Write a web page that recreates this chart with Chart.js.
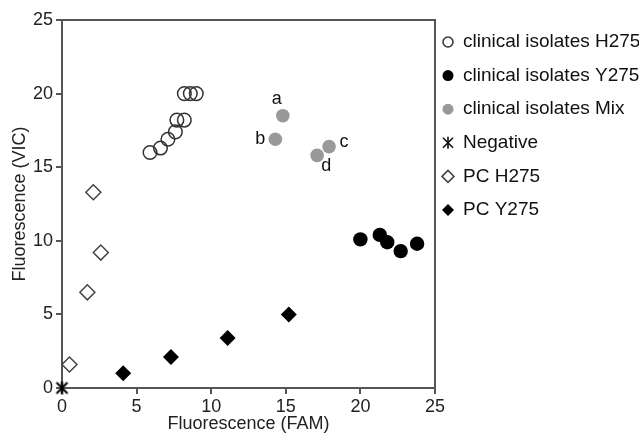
<!DOCTYPE html>
<html>
<head>
<meta charset="utf-8">
<script src="https://cdn.jsdelivr.net/npm/chart.js@4"></script>
<style>
  html, body { margin: 0; padding: 0; background: #fff; }
  #wrap { width: 639px; height: 434px; }
</style>
</head>
<body>
<div id="wrap"><canvas id="fluoChart" width="639" height="434"></canvas></div>
<script>
// series names (legend order)
const seriesNames = ['clinical isolates H275', 'clinical isolates Y275', 'clinical isolates Mix', 'Negative', 'PC H275', 'PC Y275'];

// values
const h275X = [5.9, 6.6, 7.1, 7.6, 7.7, 8.2, 8.2, 8.6, 9.0];
const h275Y = [16.0, 16.3, 16.9, 17.4, 18.2, 18.2, 20.0, 20.0, 20.0];
const y275X = [20.0, 21.3, 21.8, 22.7, 23.8];
const y275Y = [10.1, 10.4, 9.9, 9.3, 9.8];
const mixX = [14.8, 14.3, 17.9, 17.1];
const mixY = [18.5, 16.9, 16.4, 15.8];
const mixLabels = ['a', 'b', 'c', 'd'];
const negX = [0];
const negY = [0];
const pcH275X = [0.5, 1.7, 2.6, 2.1];
const pcH275Y = [1.6, 6.5, 9.2, 13.3];
const pcY275X = [4.1, 7.3, 11.1, 15.2];
const pcY275Y = [1.0, 2.1, 3.4, 5.0];

const axisTicks = [0, 5, 10, 15, 20, 25];

const FONT = "'Liberation Sans', Arial, sans-serif";
const AXIS_COLOR = '#555';

function toPoints(xs, ys) {
    return xs.map((x, i) => ({ x: x, y: ys[i] }));
}

// asterisk marker for the negative control
function makeStar(size, lw) {
    const c = document.createElement('canvas');
    c.width = size; c.height = size;
    const g = c.getContext('2d');
    const m = 2, s = size - 2;
    g.strokeStyle = '#000';
    g.lineWidth = lw;
    g.beginPath();
    g.moveTo(m + 1, m + 1); g.lineTo(s - 1, s - 1);
    g.moveTo(s - 1, m + 1); g.lineTo(m + 1, s - 1);
    g.moveTo(size / 2, m); g.lineTo(size / 2, s);
    g.stroke();
    return c;
}
const starBig = makeStar(17, 2);

// small markers for the legend
function drawMarker(ctx, kind, x, y) {
    ctx.save();
    ctx.lineWidth = 1.5;
    ctx.beginPath();
    if (kind === 'openCircle') {
        ctx.arc(x, y, 5, 0, Math.PI * 2);
        ctx.strokeStyle = '#333';
        ctx.stroke();
    } else if (kind === 'blackCircle' || kind === 'grayCircle') {
        ctx.arc(x, y, 5.5, 0, Math.PI * 2);
        ctx.fillStyle = kind === 'blackCircle' ? '#000' : '#999';
        ctx.fill();
    } else if (kind === 'star') {
        ctx.strokeStyle = '#111';
        ctx.lineWidth = 1.6;
        ctx.moveTo(x - 5, y - 5); ctx.lineTo(x + 5, y + 5);
        ctx.moveTo(x + 5, y - 5); ctx.lineTo(x - 5, y + 5);
        ctx.moveTo(x, y - 6); ctx.lineTo(x, y + 6);
        ctx.stroke();
    } else {
        ctx.moveTo(x - 6, y); ctx.lineTo(x, y - 6); ctx.lineTo(x + 6, y); ctx.lineTo(x, y + 6);
        ctx.closePath();
        if (kind === 'openDiamond') {
            ctx.strokeStyle = '#444';
            ctx.stroke();
        } else {
            ctx.fillStyle = '#000';
            ctx.fill();
        }
    }
    ctx.restore();
}
const legendKinds = ['openCircle', 'blackCircle', 'grayCircle', 'star', 'openDiamond', 'blackDiamond'];

const extrasPlugin = {
    id: 'extras',
    afterDraw(chart) {
        const ctx = chart.ctx;
        const a = chart.chartArea;
        // top and right frame lines
        ctx.save();
        ctx.strokeStyle = AXIS_COLOR;
        ctx.lineWidth = 2;
        ctx.beginPath();
        ctx.moveTo(a.left, a.top);
        ctx.lineTo(a.right, a.top);
        ctx.lineTo(a.right, a.bottom);
        ctx.stroke();
        ctx.restore();

        // letters next to the mix points
        const offsets = [[-6, -17], [-15, 0], [15, -5], [9, 11]];
        const meta = chart.getDatasetMeta(2);
        ctx.save();
        ctx.font = '18px ' + FONT;
        ctx.fillStyle = '#111';
        ctx.textAlign = 'center';
        ctx.textBaseline = 'middle';
        meta.data.forEach((pt, i) => {
            ctx.fillText(mixLabels[i], pt.x + offsets[i][0], pt.y + offsets[i][1]);
        });
        ctx.restore();

        // legend
        ctx.save();
        ctx.font = '19px ' + FONT;
        ctx.fillStyle = '#111';
        ctx.textBaseline = 'middle';
        seriesNames.forEach((name, i) => {
            const y = 42 + i * 33.6;
            drawMarker(ctx, legendKinds[i], 448, y);
            ctx.fillText(name, 463, y);
        });
        ctx.restore();
    }
};

const ctx = document.getElementById('fluoChart').getContext('2d');

const fluoChart = new Chart(ctx, {
    type: 'scatter',
    data: {
        datasets: [
            {
                label: seriesNames[0],
                data: toPoints(h275X, h275Y),
                pointStyle: 'circle',
                pointRadius: 6.8,
                backgroundColor: 'rgba(0,0,0,0)',
                borderColor: '#333',
                borderWidth: 1.5
            },
            {
                label: seriesNames[1],
                data: toPoints(y275X, y275Y),
                pointStyle: 'circle',
                pointRadius: 7.2,
                backgroundColor: '#000',
                borderColor: '#000',
                borderWidth: 0
            },
            {
                label: seriesNames[2],
                data: toPoints(mixX, mixY),
                pointStyle: 'circle',
                pointRadius: 6.8,
                backgroundColor: '#999',
                borderColor: '#999',
                borderWidth: 0
            },
            {
                label: seriesNames[3],
                data: toPoints(negX, negY),
                pointStyle: starBig,
                pointRadius: 8
            },
            {
                label: seriesNames[4],
                data: toPoints(pcH275X, pcH275Y),
                pointStyle: 'rectRot',
                pointRadius: 7.5,
                backgroundColor: 'rgba(0,0,0,0)',
                borderColor: '#444',
                borderWidth: 1.5
            },
            {
                label: seriesNames[5],
                data: toPoints(pcY275X, pcY275Y),
                pointStyle: 'rectRot',
                pointRadius: 8,
                backgroundColor: '#000',
                borderColor: '#000',
                borderWidth: 0
            }
        ]
    },
    options: {
        responsive: false,
        animation: false,
        clip: false,
        layout: {
            padding: { top: 20, right: 204, bottom: 0, left: 0 }
        },
        plugins: {
            legend: { display: false },
            tooltip: { enabled: false }
        },
        scales: {
            x: {
                type: 'linear',
                min: 0,
                max: 25,
                afterBuildTicks: (scale) => { scale.ticks = axisTicks.map(v => ({ value: v })); },
                afterFit: (scale) => { scale.height = 46; },
                ticks: {
                    font: { size: 18, family: FONT },
                    color: '#222',
                    padding: 2,
                    maxRotation: 0
                },
                grid: {
                    drawOnChartArea: false,
                    drawTicks: true,
                    tickLength: 6,
                    color: AXIS_COLOR,
                    lineWidth: 2
                },
                border: { color: AXIS_COLOR, width: 2 },
                title: {
                    display: true,
                    text: 'Fluorescence (FAM)',
                    font: { size: 18, family: FONT },
                    color: '#222',
                    padding: { top: 0, bottom: -1 }
                }
            },
            y: {
                type: 'linear',
                min: 0,
                max: 25,
                afterBuildTicks: (scale) => { scale.ticks = axisTicks.map(v => ({ value: v })); },
                afterFit: (scale) => { scale.width = 62; },
                ticks: {
                    font: { size: 18, family: FONT },
                    color: '#222',
                    padding: 3
                },
                grid: {
                    drawOnChartArea: false,
                    drawTicks: true,
                    tickLength: 6,
                    color: AXIS_COLOR,
                    lineWidth: 2
                },
                border: { color: AXIS_COLOR, width: 2 },
                title: {
                    display: true,
                    text: 'Fluorescence (VIC)',
                    font: { size: 18, family: FONT },
                    color: '#222',
                    padding: { top: 9, bottom: 0 }
                }
            }
        }
    },
    plugins: [extrasPlugin]
});
</script>
</body>
</html>
